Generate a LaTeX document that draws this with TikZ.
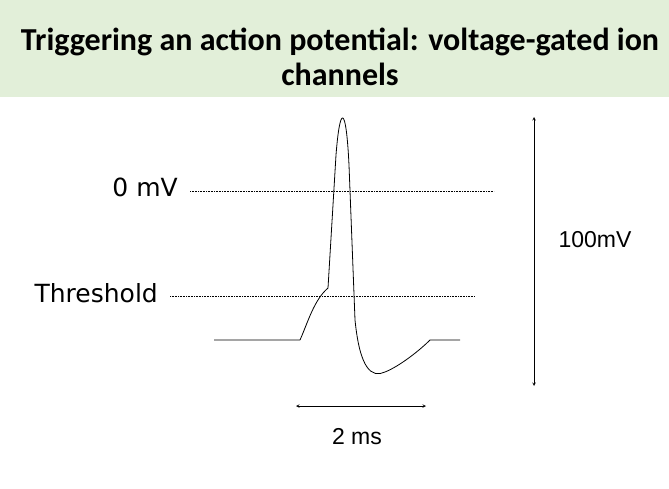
\documentclass[tikz,border=0pt]{standalone}
\usepackage{fontspec}
\setmainfont{Liberation Sans}
\newfontfamily\titlefont{Carlito}
\newfontfamily\labfont{DejaVu Sans}
\begin{document}
\begin{tikzpicture}[x=1pt,y=-1pt,
  guide/.style={densely dotted,line width=0.6pt},
  meas/.style={<->,>=stealth,line width=0.6pt},
  trace/.style={line width=0.8pt,line join=round}]
\useasboundingbox (0,0) rectangle (669,488);
\fill[fill={rgb,255:red,226;green,239;blue,217}] (0,0) rectangle (669,97);
\node[font=\titlefont\bfseries\fontsize{32}{35}\selectfont,align=center] (title) at (340,57)
  {Triggering an action potential: voltage-gated ion\\channels};
\node[font=\labfont\fontsize{25}{28}\selectfont,anchor=east,inner sep=0pt] (zero) at (178,187) {0 mV};
\node[font=\labfont\fontsize{25}{28}\selectfont,anchor=east,inner sep=0pt] (thr) at (158,293) {Threshold};
\coordinate (z1) at (190,191); \coordinate (z2) at (494,191);
\coordinate (t1) at (170,296); \coordinate (t2) at (475,296);
\draw[guide] (z1) -- (z2);
\draw[guide] (t1) -- (t2);
\coordinate (v1) at (534,117); \coordinate (v2) at (534,386);
\draw[meas] (v1) -- (v2);
\node[font=\fontsize{23}{26}\selectfont] (hv) at (595,240) {100mV};
\coordinate (h1) at (296,406); \coordinate (h2) at (426,406);
\draw[meas] (h1) -- (h2);
\node[font=\fontsize{23}{26}\selectfont] (ms) at (357,437) {2 ms};
\draw[trace] (214,340) -- (300,340)
  .. controls (308,322) and (314,300) .. (328,288)
  -- (336,155) .. controls (340,104) and (346,104) .. (349,165)
  -- (355,320) .. controls (360,370) and (372,378) .. (385,372)
  .. controls (400,366) and (420,350) .. (430,340) -- (460,340);
\end{tikzpicture}
\end{document}
